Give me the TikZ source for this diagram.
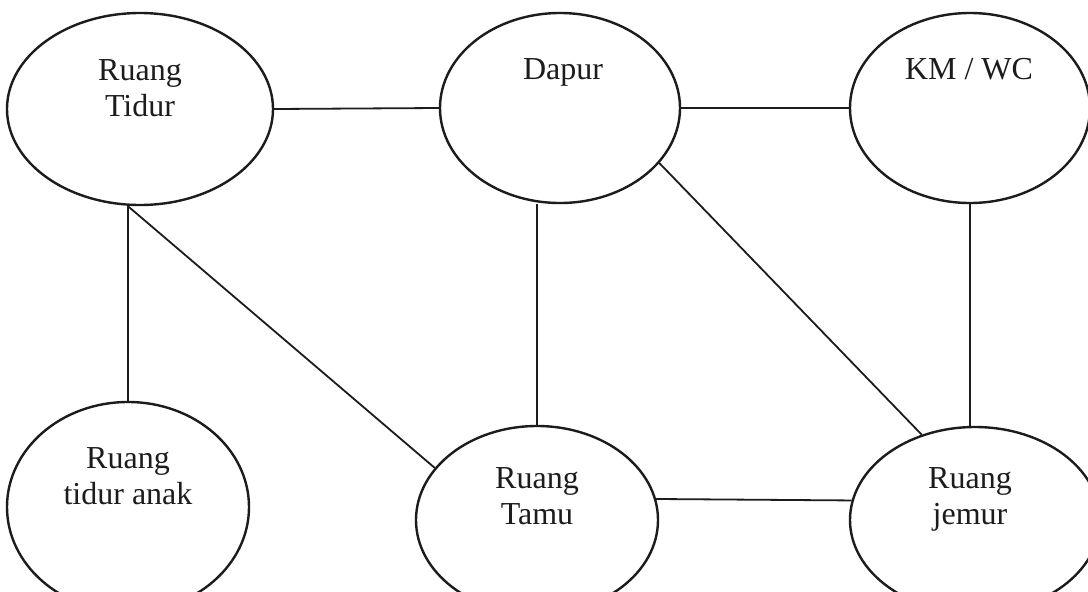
\documentclass[tikz,border=0pt]{standalone}
\usepackage{fontspec}
\setmainfont{Liberation Serif}
\usetikzlibrary{shapes.geometric}
\definecolor{ink}{HTML}{1C1C1C}
\tikzset{
  room/.style={ellipse, draw=ink, line width=2.4pt, inner sep=0pt},
  lbl/.style={anchor=north, align=center, inner sep=0pt, text=ink,
    font=\fontsize{32}{36}\selectfont},
  conn/.style={draw=ink, line width=1.8pt}
}
\begin{document}
\begin{tikzpicture}[x=1pt,y=-1pt]
\useasboundingbox (0,0) rectangle (1088,592);
\clip (0,0) rectangle (1088,592);
\fill[white] (0,0) rectangle (1088,592);
% rooms
\node[room, minimum width=266pt, minimum height=192pt] (rt) at (140,109) {};
\node[room, minimum width=240pt, minimum height=190pt] (dap) at (560,108) {};
\node[room, minimum width=240pt, minimum height=190pt] (km) at (970,108) {};
\node[room, minimum width=242pt, minimum height=210pt] (rta) at (128,507) {};
\node[room, minimum width=242pt, minimum height=188pt] (tamu) at (537,520) {};
\node[room, minimum width=250pt, minimum height=186pt] (jem) at (975,520) {};
% labels
\node[lbl] (trt) at (140,59) {Ruang\\Tidur};
\node[lbl] (tdap) at (563,58) {Dapur};
\node[lbl] (tkm) at (969,58) {KM / WC};
\node[lbl] (trta) at (128,447) {Ruang\\tidur anak};
\node[lbl] (ttamu) at (537,467) {Ruang\\Tamu};
\node[lbl] (tjem) at (970,467) {Ruang\\jemur};
% connectors
\coordinate (rtb) at (rta.north |- rt.south);
\draw[conn] (rt.east) -- (dap.west);
\draw[conn] (dap.east) -- (km.west);
\draw[conn] (rtb) -- (rta.north);
\draw[conn] (rtb) -- (tamu.153);
\draw[conn] (tamu.north |- dap.south) -- (tamu.north);
\draw[conn] (dap.-29) -- (jem.122);
\draw[conn] (km.south) -- (km.south |- jem.north);
\draw[conn] (tamu.10) -- (jem.171);
\end{tikzpicture}
\end{document}
